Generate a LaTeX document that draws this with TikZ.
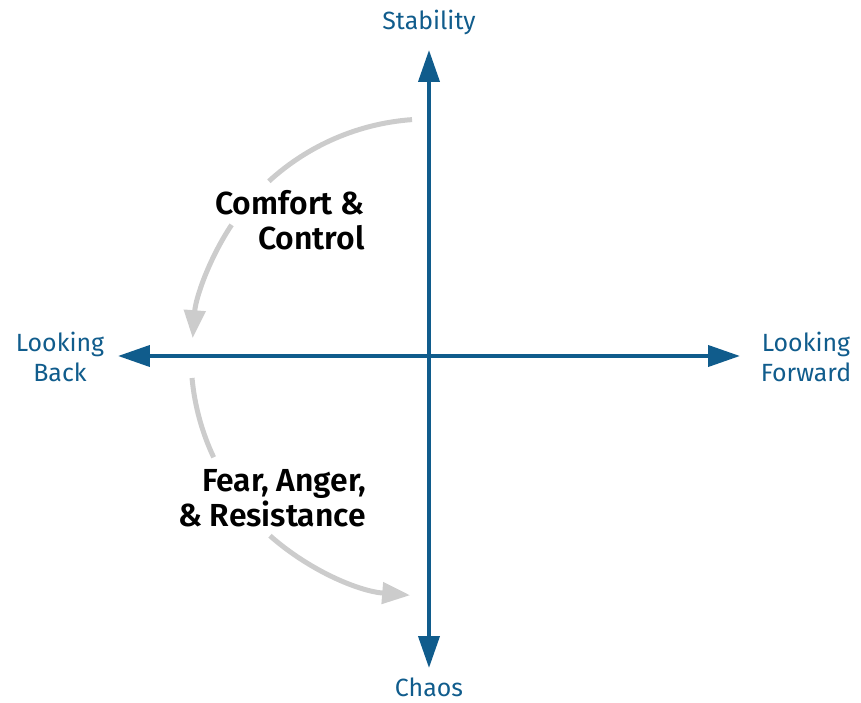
\documentclass[tikz,border=0pt]{standalone}
\usepackage{fontspec}
\setmainfont{Fira Sans}
\newfontfamily\semib{Fira Sans SemiBold}
\usetikzlibrary{arrows.meta}
\definecolor{axisblue}{RGB}{16,92,140}
\definecolor{arcgrey}{RGB}{204,204,204}
\begin{document}
\begin{tikzpicture}[x=1bp,y=1bp,
  axis/.style={line width=4bp,axisblue,-{Triangle[length=32bp,width=21bp]}},
  flow/.style={line width=5bp,arcgrey},
  flowend/.style={flow,-{Triangle[length=28bp,width=21bp]}},
  axlabel/.style={text=axisblue,font=\fontsize{25}{30}\selectfont,align=center,inner sep=0pt},
  zone/.style={text=black,font=\semib\fontsize{32}{35}\selectfont,align=right,inner sep=0pt}]
\useasboundingbox (-429,-347) rectangle (432,356);
\coordinate (O) at (0,0);
\coordinate (top) at (0,306);
\coordinate (bottom) at (0,-312);
\coordinate (left) at (-311,0);
\coordinate (right) at (311,0);
\draw[axis] (O) -- (top);
\draw[axis] (O) -- (bottom);
\draw[axis] (O) -- (left);
\draw[axis] (O) -- (right);
\node[axlabel] (stab) at (0,334) {Stability};
\node[axlabel] (chaos) at (0,-331) {Chaos};
\node[axlabel] (back) at (-369,-1) {Looking\\Back};
\node[axlabel] (fwd) at (377,-1) {Looking\\Forward};
\node[zone] (comfort) at (-139,136) {Comfort \&\\Control};
\node[zone] (fear) at (-157,-142) {Fear, Anger,\\\& Resistance};
\draw[flow] (O) ++(94.1:237) arc[start angle=94.1,end angle=132.5,radius=237];
\draw[flowend] (O) ++(146.4:237) arc[start angle=146.4,end angle=175.7,radius=237];
\draw[flow] (O) ++(185.3:238) arc[start angle=185.3,end angle=205.2,radius=238];
\draw[flowend] (O) ++(228.5:240) arc[start angle=228.5,end angle=265.5,radius=240];
\end{tikzpicture}
\end{document}
